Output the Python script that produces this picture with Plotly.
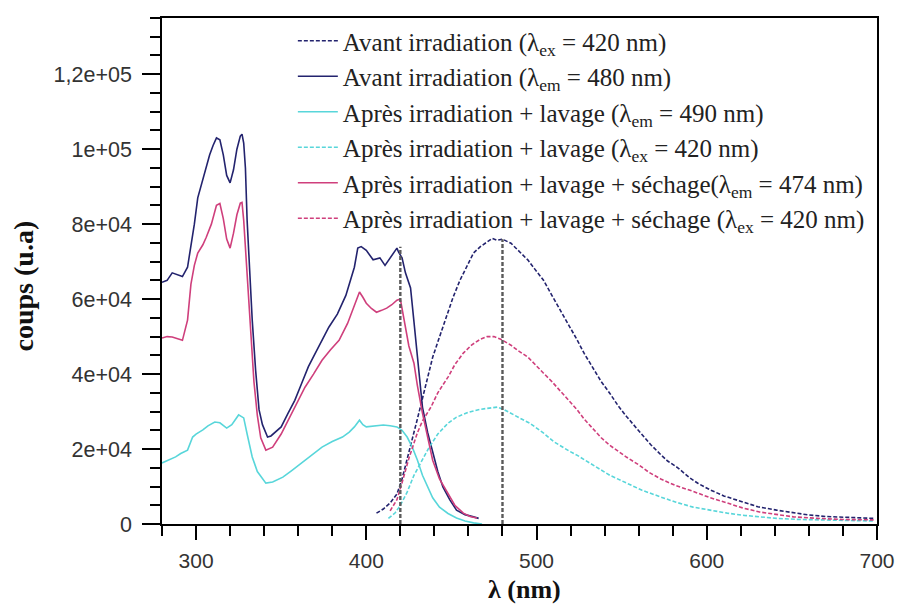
import plotly.graph_objects as go

# ---------------- data ----------------
# Avant irradiation, excitation spectrum (λem = 480 nm) – solid navy
exc_avant_x = [280, 283, 286, 289, 292, 295, 297, 299, 301, 303, 305, 308, 310, 312, 314, 316, 318, 320, 322, 324,
               326, 327, 328, 329, 330, 331, 333, 335, 337, 339, 342, 344, 346, 350, 354, 358, 362, 366, 370, 374,
               378, 383, 388, 393, 395, 397, 400, 404, 408, 411, 414, 416, 418, 419, 421, 423, 426, 428, 430, 433,
               436, 439, 442, 445, 449, 453, 458, 463, 466]
exc_avant_y = [64500, 65000, 67000, 66500, 66000, 68500, 74000, 80000, 87000, 90500, 93500, 98500, 101000, 103000,
               102500, 98500, 93000, 91000, 94500, 100000, 103500, 104000, 101600, 95000, 81000, 72000, 54400, 41000,
               30500, 26500, 23200, 23500, 24300, 25900, 29500, 33000, 37500, 42000, 45500, 49000, 52500, 56000,
               61000, 68500, 73600, 74000, 73000, 70500, 71000, 69000, 71000, 72000, 73600, 72500, 71000, 67000,
               63000, 54000, 45600, 31200, 24500, 18900, 14000, 9900, 6500, 3700, 2500, 1900, 1500]

# Après irradiation + lavage, excitation (λem = 490 nm) – solid cyan
exc_lav_x = [280, 284, 288, 291, 295, 298, 300, 304, 307, 311, 314, 318, 321, 325, 328, 330, 333, 336, 341, 345,
             351, 356, 362, 368, 374, 380, 386, 390, 393, 396, 398, 400, 405, 410, 414, 418, 421, 424, 427, 430,
             433, 436, 439, 443, 448, 453, 458, 463, 468]
exc_lav_y = [16300, 17000, 17900, 18800, 19700, 23200, 24000, 25100, 26200, 27200, 27000, 25600, 26500, 29100,
             28300, 24000, 17900, 14000, 10900, 11200, 12500, 14200, 16300, 18500, 20500, 22000, 23200, 24500,
             25900, 27700, 26500, 25900, 26200, 26400, 26200, 25900, 25000, 23200, 20500, 17100, 13000, 9900,
             7000, 4500, 2800, 1600, 800, 300, 0]

# Après irradiation + lavage + séchage, excitation (λem = 474 nm) – solid pink
exc_sech_x = [280, 283, 286, 289, 292, 295, 297, 299, 301, 304, 306, 309, 312, 314, 316, 318, 320, 322, 324, 326,
              327, 328, 329, 330, 332, 334, 336, 338, 341, 345, 350, 354, 359, 364, 369, 374, 379, 384, 389, 393,
              396, 398, 400, 403, 406, 409, 412, 415, 418, 420, 422, 425, 428, 430, 433, 436, 439, 443, 448, 452,
              457, 461, 465]
exc_sech_y = [49600, 50000, 49900, 49500, 49000, 54400, 64000, 69000, 72300, 74500, 76500, 80000, 85000, 85500,
              81500, 76000, 73600, 77600, 82500, 85600, 85800, 81000, 74000, 66000, 52000, 38000, 29000, 23000,
              19700, 20500, 24000, 27700, 32000, 36500, 40000, 43700, 46500, 49000, 53500, 58000, 61900, 60500,
              58900, 57500, 56500, 57000, 57600, 58500, 59700, 60000, 55200, 47500, 42900, 37000, 29600, 23000,
              17000, 12000, 8300, 5000, 2900, 2000, 1600]

# Avant irradiation, emission spectrum (λex = 420 nm) – dashed navy
em_avant_x = [406, 410, 414, 418, 421, 424, 427, 430, 433, 436, 439, 443, 447, 451, 455, 459, 463, 467, 471, 474,
              477, 480, 485, 489, 495, 499, 504, 509, 514, 519, 524, 528, 533, 538, 543, 548, 553, 558, 563, 567,
              573, 577, 583, 590, 595, 602, 610, 621, 630, 641, 650, 660, 670, 680, 690, 698]
em_avant_y = [2900, 4000, 5600, 8000, 12000, 17100, 22500, 28000, 33500, 38800, 44500, 49900, 55500, 60500, 65000,
              68500, 72300, 74000, 75200, 76200, 75700, 76000, 74900, 73000, 70400, 68000, 65100, 61000, 57100,
              53000, 49000, 45500, 41900, 38000, 34900, 31500, 28600, 26000, 23500, 21200, 18500, 16800, 15000,
              12300, 10800, 9100, 7500, 5900, 4600, 3700, 3000, 2400, 2000, 1800, 1600, 1500]

# Après irradiation + lavage, emission (λex = 420 nm) – dashed cyan
em_lav_x = [413, 417, 420, 424, 428, 433, 437, 442, 448, 453, 460, 467, 472, 477, 481, 485, 490, 496, 504, 510,
            514, 519, 524, 533, 543, 553, 562, 573, 582, 592, 602, 612, 622, 631, 641, 655, 670, 685, 698]
em_lav_y = [1500, 3000, 5000, 8500, 13000, 17100, 20500, 24000, 26900, 28500, 29800, 30600, 31000, 31200, 30500,
            29600, 28300, 26900, 24300, 22000, 20800, 19500, 18300, 15700, 13000, 10900, 9000, 7200, 5800, 4500,
            3600, 2900, 2300, 1900, 1500, 1200, 1000, 900, 800]

# Après irradiation + lavage + séchage, emission (λex = 420 nm) – dashed pink
em_sech_x = [414, 418, 421, 425, 430, 433, 438, 442, 448, 452, 457, 462, 467, 471, 475, 479, 485, 489, 495, 499,
             504, 509, 514, 519, 524, 528, 533, 538, 543, 548, 553, 560, 566, 573, 582, 592, 602, 612, 621, 631,
             641, 651, 665, 680, 698]
em_sech_y = [3500, 6500, 11000, 17500, 24300, 27500, 31200, 35000, 39200, 42500, 45600, 47800, 49300, 50000, 50000,
             49300, 47700, 46300, 44500, 42500, 40300, 38000, 35500, 33000, 30400, 28000, 25500, 23000, 21000,
             19300, 17800, 15800, 13800, 12000, 10200, 8700, 7000, 5600, 4300, 3200, 2500, 1900, 1500, 1200, 1100]

# reference (dashed gray) wavelengths and their heights
ref_x = [420, 480]
ref_top = [74000, 76000]

names = [
    "Avant irradiation (λ<sub>ex</sub> = 420 nm)",
    "Avant irradiation (λ<sub>em</sub> = 480 nm)",
    "Après irradiation + lavage (λ<sub>em</sub> = 490 nm)",
    "Après irradiation + lavage (λ<sub>ex</sub> = 420 nm)",
    "Après irradiation + lavage + séchage(λ<sub>em</sub> = 474 nm)",
    "Après irradiation + lavage + séchage (λ<sub>ex</sub> = 420 nm)",
]

y_tickvals = [0, 20000, 40000, 60000, 80000, 100000, 120000]
y_ticktext = ["0", "2e+04", "4e+04", "6e+04", "8e+04", "1e+05", "1,2e+05"]
x_tickvals = [300, 400, 500, 600, 700]

NAVY = "#23236e"
CYAN = "#58d6da"
PINK = "#cf3f7c"
SERIF = "Liberation Serif, Times New Roman, serif"

series = [
    (em_avant_x, em_avant_y, NAVY, "4px,2px"),
    (exc_avant_x, exc_avant_y, NAVY, "solid"),
    (exc_lav_x, exc_lav_y, CYAN, "solid"),
    (em_lav_x, em_lav_y, CYAN, "4px,2px"),
    (exc_sech_x, exc_sech_y, PINK, "solid"),
    (em_sech_x, em_sech_y, PINK, "4px,2px"),
]

fig = go.Figure()
for i, ((xs, ys, col, dash), nm) in enumerate(zip(series, names)):
    fig.add_trace(go.Scatter(x=xs, y=ys, mode="lines", name=nm, legendgroup=f"g{i}",
                             line=dict(color=col, width=1.6, dash=dash)))

for xv, top in zip(ref_x, ref_top):
    fig.add_trace(go.Scatter(x=[xv, xv], y=[0, top], mode="lines", showlegend=False,
                             line=dict(color="#5a5a5a", width=2.4, dash="4px,2px")))

fig.update_layout(
    width=898, height=606,
    margin=dict(l=162, r=21, t=18, b=82, autoexpand=False),
    paper_bgcolor="white", plot_bgcolor="white",
    font=dict(family="Liberation Sans, Arial, sans-serif", color="#222"),
    legend=dict(x=0.183, y=1.0, xanchor="left", yanchor="top", bgcolor="rgba(0,0,0,0)",
                font=dict(family=SERIF, size=25, color="#222"),
                tracegroupgap=0, itemwidth=40),
    showlegend=True,
    annotations=[
        dict(text="<b>coups (u.a)</b>", textangle=-90, xref="paper", yref="paper",
             x=-0.194, y=0.47, xanchor="center", yanchor="middle", showarrow=False,
             font=dict(family=SERIF, size=28, color="#111")),
        dict(text="<b>λ (nm)</b>", xref="paper", yref="paper",
             x=0.507, y=-0.13, xanchor="center", yanchor="middle", showarrow=False,
             font=dict(family=SERIF, size=26, color="#111")),
    ],
)

fig.update_xaxes(
    range=[280, 700], tickvals=x_tickvals, ticks="outside", ticklen=14, tickwidth=1.5, tickcolor="black",
    showline=True, linecolor="black", linewidth=1.5, mirror=True, showgrid=False, zeroline=False,
    automargin=False, tickfont=dict(size=21, color="#333"), ticklabelstandoff=3,
    minor=dict(dtick=20, ticks="outside", ticklen=10, tickwidth=1.5, tickcolor="black", showgrid=False),
)
fig.update_yaxes(
    range=[0, 135000], tickvals=y_tickvals, ticktext=y_ticktext, ticks="outside", ticklen=18, tickwidth=1.5,
    tickcolor="black", showline=True, linecolor="black", linewidth=1.5, mirror=True, showgrid=False,
    zeroline=False, automargin=False, tickfont=dict(size=21.5, color="#333"), ticklabelstandoff=6,
    minor=dict(dtick=5000, ticks="outside", ticklen=10, tickwidth=1.5, tickcolor="black", showgrid=False),
)

# remove the browser's default body margin so the figure fills the window exactly
fig.write_html("out.html", config={"displayModeBar": False},
               post_script="document.body.style.margin='0';document.body.style.overflow='hidden';")
